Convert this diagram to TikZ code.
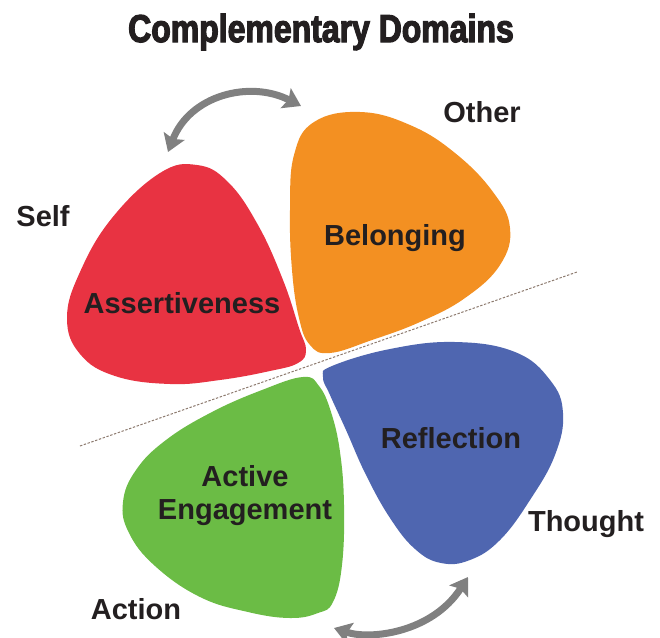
\documentclass[tikz,border=0pt]{standalone}
\usepackage{fontspec}
\setmainfont{Liberation Sans}
\newfontfamily\titlefont[FakeStretch=0.82,FakeBold=3]{Liberation Sans}
\usetikzlibrary{arrows.meta}
\definecolor{cred}{HTML}{E83342}
\definecolor{corange}{HTML}{F39022}
\definecolor{cgreen}{HTML}{6BBC45}
\definecolor{cblue}{HTML}{4F66B0}
\definecolor{ctext}{HTML}{231F20}
\definecolor{carrow}{HTML}{808080}
\definecolor{cdash}{HTML}{8C7A6E}
\tikzset{
  petal/.style={draw=none},
  lbl/.style={text=ctext,font=\bfseries\fontsize{29}{33}\selectfont,align=center,inner sep=0pt},
  swap/.style={draw=carrow,line width=7pt,{Stealth[length=17pt,width=22pt,inset=3pt]}-{Stealth[length=17pt,width=22pt,inset=3pt]}},
  divider/.style={draw=cdash,line width=1pt,dash pattern=on 2.4pt off 1.6pt}
}
\begin{document}
\begin{tikzpicture}[x=1pt,y=-1pt]
\useasboundingbox (0,0) rectangle (660,637);
% petals
\fill[cred,petal] plot[smooth cycle,tension=0.7] coordinates {
 (197,165) (228,182) (258,225) (283,280) (299,328) (306,350) (298,363) (270,371)
 (220,380) (170,384) (115,376) (80,354) (67,318) (80,272) (112,218) (160,173)};
\fill[corange,petal] plot[smooth cycle,tension=0.7] coordinates {
 (360,112) (410,125) (455,153) (493,192) (510,228) (500,265) (465,298) (420,322)
 (372,340) (330,353) (310,345) (299,318) (292,270) (290,210) (294,155) (314,122)};
\fill[cgreen,petal] plot[smooth cycle,tension=0.7] coordinates {
 (303,377) (319,386) (331,412) (340,452) (344,505) (342,565) (333,602) (318,613)
 (290,618) (248,612) (200,597) (155,566) (129,533) (123,502) (136,470) (166,440)
 (212,412) (262,390)};
\fill[cblue,petal] plot[smooth cycle,tension=0.7] coordinates {
 (332,366) (390,349) (455,342) (515,352) (550,380) (563,413) (555,455) (530,500)
 (500,540) (470,560) (441,563) (415,549) (390,518) (366,475) (346,430) (330,395)
 (323,377)};
% divider
\coordinate (d1) at (80,446);
\coordinate (d2) at (577,272);
\draw[divider] (d1) -- (d2);
% arrows
\coordinate (a1) at (168,152);
\coordinate (a2) at (301,106);
\draw[swap] (a1) .. controls (190,95) and (250,80) .. (a2);
\coordinate (b1) at (334,628);
\coordinate (b2) at (468,577);
\draw[swap] (b1) .. controls (370,640) and (432,633) .. (b2);
% title
\node[text=ctext,inner sep=0pt] (title) at (321,32) {\titlefont\bfseries\fontsize{39}{44}\selectfont Complementary Domains};
% labels
\node[lbl] (assert) at (182,303) {Assertiveness};
\node[lbl] (belong) at (395,238) {Belonging};
\node[lbl] (active) at (245,496) {Active\\Engagement};
\node[lbl] (reflect) at (451,438) {Reflection};
\node[lbl] (other) at (482,112) {Other};
\node[lbl] (self) at (43,216) {Self};
\node[lbl] (thought) at (586,524) {Thought};
\node[lbl] (action) at (136,609) {Action};
\end{tikzpicture}
\end{document}
